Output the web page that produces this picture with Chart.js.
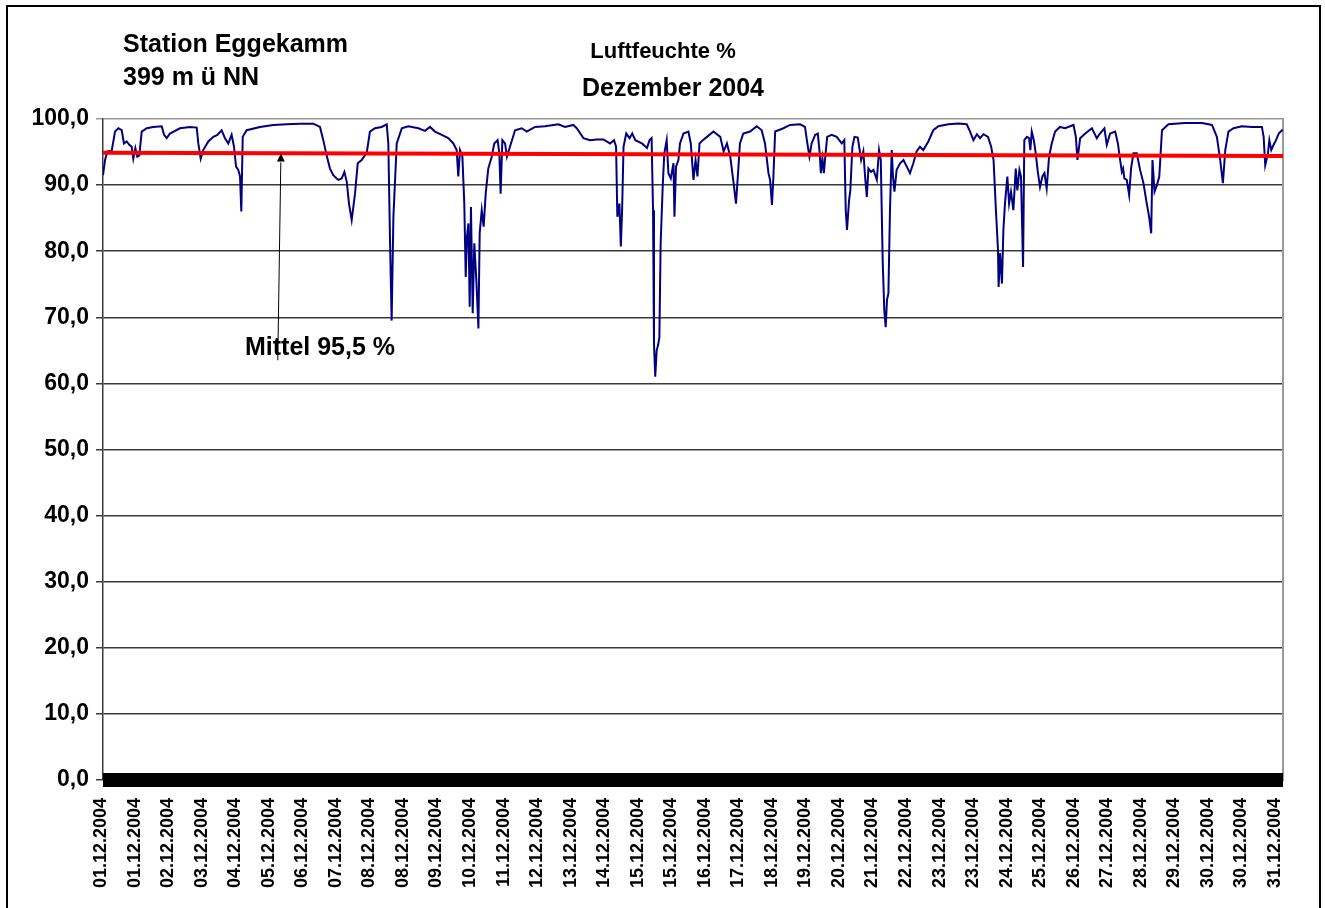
<!DOCTYPE html>
<html lang="de">
<head>
<meta charset="utf-8">
<title>Station Eggekamm - Luftfeuchte Dezember 2004</title>
<script src="https://cdn.jsdelivr.net/npm/chart.js@4.4.1/dist/chart.umd.min.js"></script>
<style>
  html, body { margin: 0; padding: 0; background: #fff; overflow: hidden; }
  body { width: 1325px; height: 908px; position: relative; font-family: "Liberation Sans", Arial, sans-serif; }
  .frame { position: absolute; left: 6px; top: 5px; width: 1315px; height: 1000px; border: 2px solid #000; box-sizing: border-box; }
  canvas { position: absolute; left: 0; top: 0; }
  .txt { position: absolute; font-weight: bold; color: #000; white-space: nowrap; }
</style>
</head>
<body>
<div class="frame"></div>
<canvas id="humidityChart" width="1325" height="908"></canvas>
<div class="txt" style="left:123px; top:31px; font-size:25px; line-height:25px;">Station Eggekamm</div>
<div class="txt" style="left:123px; top:64px; font-size:25px; line-height:25px;">399 m ü NN</div>
<div class="txt" style="left:663px; top:40px; font-size:22px; line-height:22px; transform:translateX(-50%);">Luftfeuchte %</div>
<div class="txt" style="left:673px; top:75px; font-size:25px; line-height:25px; transform:translateX(-50%);">Dezember 2004</div>
<div class="txt" style="left:245px; top:334px; font-size:25px; line-height:25px;">Mittel 95,5 %</div>

<script>
// x tick labels (one every ~21 hours, as in the original Excel chart)
const xTickLabels = [
  "01.12.2004", "01.12.2004", "02.12.2004", "03.12.2004", "04.12.2004", "05.12.2004",
  "06.12.2004", "07.12.2004", "08.12.2004", "08.12.2004", "09.12.2004", "10.12.2004",
  "11.12.2004", "12.12.2004", "13.12.2004", "14.12.2004", "15.12.2004", "15.12.2004",
  "16.12.2004", "17.12.2004", "18.12.2004", "19.12.2004", "20.12.2004", "21.12.2004",
  "22.12.2004", "23.12.2004", "23.12.2004", "24.12.2004", "25.12.2004", "26.12.2004",
  "27.12.2004", "28.12.2004", "29.12.2004", "30.12.2004", "30.12.2004", "31.12.2004"
];
const labelStep = 21.15; // hours between two labels
const monthHours = 744;

const yTicks = [0, 10, 20, 30, 40, 50, 60, 70, 80, 90, 100];

// relative humidity (%), hours since 01.12.2004 00:00
const hours = [
  0, 1.3, 2.7, 5.5, 7.6, 9.7, 11.8, 13.2, 14.9, 16.6, 18.1, 19.1, 20.4, 21.6, 22.9, 24.4,
  27.6, 31.7, 37.0, 38.5, 40.2, 42.2, 48.5, 54.9, 59.1, 60.1, 61.6, 63.2, 66.4, 69.6, 72.1,
  74.8, 76.9, 79.0, 81.1, 82.6, 83.9, 85.3, 86.4, 87.2, 88.1, 90.6, 99.0, 107.4, 115.8,
  124.2, 132.6, 136.8, 138.9, 141.0, 143.1, 145.2, 147.3,
  148.4, 150.5, 152.2, 153.7, 155.1, 156.8, 158.9, 160.6, 163.1, 166.3, 168.3, 171.5, 175.7,
  178.9, 179.9, 181.0, 182.0, 183.1, 185.2, 188.4, 192.5, 198.8, 203.0, 206.2, 209.3, 213.6,
  217.7, 220.9, 223.0, 224.0, 225.1, 226.6, 227.8, 228.7, 229.5, 230.4, 231.2, 232.0, 233.1,
  234.1, 235.4, 236.7, 237.5, 238.8, 240.0, 241.3, 242.9, 245.1, 246.7, 248.8, 249.9, 250.7,
  251.8, 253.5, 254.7, 256.6, 259.8, 264.0, 267.2, 272.4, 278.7, 287.1, 291.3, 296.5,
  298.7, 302.9, 307.1, 311.3, 315.5, 319.7, 322.2, 323.5, 324.3, 325.6, 326.5, 327.3, 328.2,
  329.9, 332.0, 333.7, 335.6, 339.8, 343.0, 344.6, 345.9, 346.8, 347.4, 348.2, 349.1, 350.0,
  350.8, 351.6, 352.9, 353.9, 355.4, 356.5, 358.0, 359.7, 360.3, 361.3, 362.8, 363.8, 366.0,
  369.1, 370.6, 372.3, 373.6, 374.8, 376.1, 378.2, 380.8, 384.9, 389.2, 391.3, 393.4, 395.5,
  397.6, 399.1, 400.4, 401.6, 403.7, 408.0, 412.2, 415.3, 417.4, 419.6, 420.6, 421.8, 422.7,
  423.8, 429.0, 433.2, 439.6, 442.6, 444.1, 445.4,
  446.8, 449.0, 450.7, 451.9, 452.6, 453.6, 454.5, 455.3, 456.6, 459.4, 462.6, 465.8, 467.4,
  468.3, 469.1, 470.4, 471.2, 472.5, 473.8, 475.9, 478.0, 479.4, 480.5, 481.6, 482.6, 484.2,
  485.8, 487.9, 489.3, 490.4, 491.6, 492.6, 493.5, 494.3, 495.2, 496.2, 497.3, 498.1, 499.0,
  500.4, 502.6, 504.7, 506.8, 508.8, 510.9, 513.0, 515.1, 517.2, 520.4, 523.5, 526.7, 533.0,
  539.3, 544.6, 546.7, 548.8, 551.0, 553.0, 555.2, 558.0, 560.0, 561.5, 563.0, 564.3, 564.7,
  565.6, 566.8, 567.7, 568.7, 570.2, 571.3, 572.5, 574.0, 575.5, 576.5, 577.8, 578.8, 580.1,
  580.9, 582.5, 583.9, 584.7, 585.6, 586.9, 588.1, 589.4, 590.8, 592.3, 593.6,
  595.0, 596.5, 598.2, 600.3, 603.4, 606.6, 611.9, 613.4, 614.4, 616.1, 619.3, 623.5, 626.6,
  628.6, 631.4, 632.9, 635.0, 638.2, 639.9, 641.2, 642.4, 643.2, 644.0, 645.5, 647.0, 648.2,
  649.7, 651.8, 653.9, 656.0, 658.1, 659.6, 660.9, 661.7, 663.0, 664.5, 666.0, 667.7, 671.8,
  682.2, 692.9, 699.2, 702.3, 704.4, 706.1, 707.6, 709.6, 712.8, 718.1, 724.4, 730.7, 731.8,
  732.8, 734.5, 735.4, 736.6, 738.1, 739.6, 741.3, 743.8
];
const humidity = [
  91.5, 93.8, 95.1, 95.2, 98.1, 98.6, 98.3, 96.3, 96.6, 96.1, 95.8, 94.0, 95.6, 94.3, 94.5, 98.1,
  98.6, 98.8, 98.9, 97.6, 97.1, 97.8, 98.6, 98.8, 98.7, 96.3, 94.0, 95.3, 96.6, 97.3, 97.6,
  98.3, 97.1, 96.3, 97.6, 95.8, 92.8, 92.3, 91.3, 86.0, 97.3, 98.3, 98.8, 99.1, 99.2,
  99.3, 99.3, 98.8, 96.8, 94.5, 92.5, 91.5, 91.0,
  90.8, 91.0, 92.0, 90.5, 87.2, 84.7, 88.7, 93.3, 93.8, 94.9, 98.1, 98.6, 98.8,
  99.2, 96.3, 81.2, 69.5, 85.2, 96.3, 98.6, 98.9, 98.6, 98.2, 98.8, 98.1, 97.6,
  97.1, 96.3, 95.3, 91.3, 95.3, 94.3, 87.2, 76.1, 82.2, 84.2, 71.6, 86.7, 70.6,
  81.2, 75.6, 68.3, 82.7, 86.2, 83.7, 88.7, 92.5, 94.3, 96.3, 96.8, 94.8, 88.7,
  96.8, 96.3, 94.3, 95.8, 98.3, 98.6, 98.1, 98.8, 98.9, 99.2, 98.8, 99.1,
  98.6, 97.1, 96.8, 96.9, 96.9, 96.3, 96.8, 95.8, 85.2, 87.2, 80.7, 86.2, 95.8,
  97.8, 97.1, 97.8, 96.8, 96.3, 95.6, 96.8, 97.1, 86.2, 66.0, 61.0, 65.0, 65.8,
  67.0, 81.2, 89.8, 94.8, 96.8, 91.8, 91.0, 93.3, 85.2, 92.8, 93.8, 96.3, 97.8,
  98.1, 96.3, 90.8, 93.8, 91.3, 96.3, 96.8, 97.3, 98.1, 97.3, 95.1, 96.3, 94.3,
  90.3, 87.2, 91.8, 96.3, 97.8, 98.1, 98.9, 98.3, 96.3, 91.8, 90.8, 87.0, 91.3,
  98.1, 98.6, 99.1, 99.2, 98.8, 96.3, 94.3,
  96.3, 97.6, 97.8, 94.8, 91.8, 94.0, 91.8, 94.0, 97.3, 97.6, 97.3, 96.3, 96.8,
  86.2, 83.2, 87.7, 89.2, 95.8, 97.3, 97.2, 93.8, 95.1, 91.3, 88.2, 92.5, 92.0,
  92.3, 90.8, 95.3, 93.8, 78.6, 71.1, 68.5, 72.6, 73.6, 86.2, 95.3, 91.3, 89.0,
  92.3, 93.3, 93.8, 92.8, 91.8, 93.3, 95.1, 95.8, 95.3, 96.6, 98.3, 98.9, 99.2,
  99.3, 99.2, 98.1, 96.8, 97.7, 97.1, 97.7, 97.3, 95.8, 93.8, 86.2, 80.2, 74.6,
  79.7, 75.1, 83.2, 87.2, 91.3, 87.2, 89.0, 86.2, 92.5, 89.2, 92.3, 91.3, 77.6,
  96.8, 97.3, 97.1, 95.3, 98.1, 96.8, 94.8, 92.0, 89.7, 91.3, 91.8,
  89.5, 94.3, 96.3, 98.1, 98.8, 98.6, 99.1, 97.3, 93.8, 97.1, 97.8, 98.6, 97.1,
  97.8, 98.6, 96.1, 97.8, 98.1, 96.3, 94.0, 92.0, 92.5, 91.0, 90.8, 88.5, 92.5,
  94.8, 94.8, 92.3, 90.3, 87.2, 85.2, 82.7, 93.8, 89.0, 90.0, 91.3, 98.3, 99.2,
  99.4, 99.4, 99.1, 97.3, 93.8, 90.3, 95.3, 98.1, 98.6, 98.9, 98.8, 98.8, 97.3,
  93.0, 94.8, 96.8, 95.3, 96.1, 96.8, 97.8, 98.4
];

// red mean line (slightly falling from start to end of month)
const meanHours = [0, monthHours];
const meanValues = [94.9, 94.4];

// arrow from the "Mittel" label up to the red line: [hour, value]
const arrowFrom = [110.2, 63.5];
const arrowTo = [112.2, 94.8];

// Excel draws dense category ticks that merge into a thick black bar on the x axis
const axisBarPlugin = {
  id: "axisBar",
  beforeDatasetsDraw(chart) {
    const { ctx, scales: { x, y } } = chart;
    const y0 = y.getPixelForValue(0);
    ctx.save();
    ctx.fillStyle = "#000";
    ctx.fillRect(x.left, y0 - 7, x.right - x.left, 14);
    ctx.restore();
  },
};

const arrowPlugin = {
  id: "mittelArrow",
  afterDatasetsDraw(chart) {
    const { ctx, scales: { x, y } } = chart;
    const x1 = x.getPixelForValue(arrowFrom[0]);
    const y1 = y.getPixelForValue(arrowFrom[1]);
    const x2 = x.getPixelForValue(arrowTo[0]);
    const y2 = y.getPixelForValue(arrowTo[1]);
    const angle = Math.atan2(y2 - y1, x2 - x1);
    const head = 9;
    ctx.save();
    ctx.strokeStyle = "#000";
    ctx.fillStyle = "#000";
    ctx.lineWidth = 1;
    ctx.beginPath();
    ctx.moveTo(x1, y1);
    ctx.lineTo(x2 - head * Math.cos(angle), y2 - head * Math.sin(angle));
    ctx.stroke();
    ctx.beginPath();
    ctx.moveTo(x2, y2);
    ctx.lineTo(x2 - head * Math.cos(angle - 0.45), y2 - head * Math.sin(angle - 0.45));
    ctx.lineTo(x2 - head * Math.cos(angle + 0.45), y2 - head * Math.sin(angle + 0.45));
    ctx.closePath();
    ctx.fill();
    ctx.restore();
  },
};

Chart.defaults.font.family = '"Liberation Sans", Arial, sans-serif';
Chart.defaults.color = "#000";

const ctx = document.getElementById("humidityChart").getContext("2d");
new Chart(ctx, {
  type: "line",
  data: {
    datasets: [
      {
        label: "Mittel",
        data: meanHours.map((h, i) => ({ x: h, y: meanValues[i] })),
        borderColor: "#ff0000",
        borderWidth: 4,
        pointRadius: 0,
        tension: 0,
      },
      {
        label: "Luftfeuchte",
        data: hours.map((h, i) => ({ x: h, y: humidity[i] })),
        borderColor: "#000080",
        borderWidth: 2,
        pointRadius: 0,
        tension: 0,
      },
    ],
  },
  options: {
    responsive: false,
    animation: false,
    events: [],
    layout: { padding: { top: 119, right: 42, bottom: 0, left: 0 } },
    plugins: {
      legend: { display: false },
      tooltip: { enabled: false },
    },
    scales: {
      x: {
        type: "linear",
        min: 0,
        max: monthHours,
        afterBuildTicks: (axis) => {
          axis.ticks = xTickLabels.map((_, i) => ({ value: i * labelStep }));
        },
        afterFit: (scale) => { scale.height = 128; },
        grid: { display: false },
        border: { display: false },
        ticks: {
          autoSkip: false,
          maxRotation: 90,
          minRotation: 90,
          padding: 10,
          labelOffset: -2,
          font: { size: 18, weight: "bold" },
          callback: (value, index) => xTickLabels[index],
        },
      },
      y: {
        min: 0,
        max: 100,
        afterBuildTicks: (axis) => {
          axis.ticks = yTicks.map((v) => ({ value: v }));
        },
        afterFit: (scale) => { scale.width = 103; },
        grid: {
          color: (c) => (c.tick && c.tick.value === 100 ? "#9a9a9a" : "#3a3a3a"),
          lineWidth: 1.5,
          tickLength: 7,
        },
        border: { display: true, color: "#3a3a3a", width: 1.5 },
        ticks: {
          padding: 7,
          font: { size: 23, weight: "bold" },
          callback: (value) => value.toFixed(1).replace(".", ","),
        },
      },
      y2: {
        position: "right",
        min: 0,
        max: 100,
        afterFit: (scale) => { scale.width = 0; },
        grid: { display: false },
        ticks: { display: false },
        border: { display: true, color: "#9a9a9a", width: 2 },
      },
    },
  },
  plugins: [axisBarPlugin, arrowPlugin],
});
</script>
</body>
</html>
